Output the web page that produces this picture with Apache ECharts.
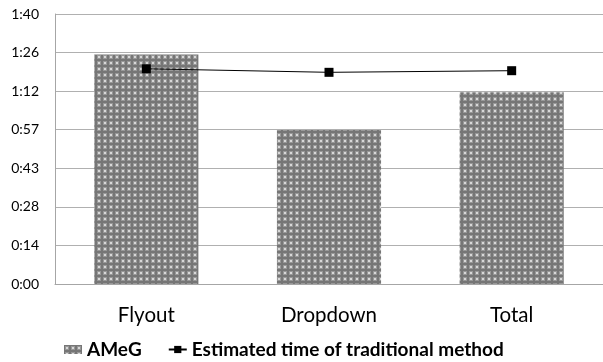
<!DOCTYPE html>
<html>
<head>
<meta charset="utf-8">
<script src="https://cdn.jsdelivr.net/npm/echarts@6/dist/echarts.min.js"></script>
<style>
  html, body { margin: 0; padding: 0; background: #fff; }
  #chart { width: 603px; height: 362px; }
</style>
</head>
<body>
<div id="chart"></div>
<script>
// Task categories
const categories = ['Flyout', 'Dropdown', 'Total'];
// Time with AMeG, in seconds
const amegSeconds = [85, 57, 71];
// Estimated time of the traditional method, in seconds
const traditionalSeconds = [79.7, 78.4, 79.0];
// Y axis: 0 to 1:40 split into seven steps
const yMax = 100;
const yStep = 100 / 7;
const yTickLabels = ['0:00', '0:14', '0:28', '0:43', '0:57', '1:12', '1:26', '1:40'];

// Grey fill with a regular grid of light dots
function makePattern() {
  const c = document.createElement('canvas');
  c.width = 6; c.height = 6;
  const g = c.getContext('2d');
  g.fillStyle = '#767676';
  g.fillRect(0, 0, 6, 6);
  g.fillStyle = '#989898';
  g.fillRect(1, 1, 4, 4);
  g.fillStyle = '#d8d8d8';
  g.fillRect(2, 2, 2, 2);
  return c;
}
const pattern = { image: makePattern(), repeat: 'repeat' };

const font = 'Lato, "Open Sans", sans-serif';
const chart = echarts.init(document.getElementById('chart'), null, { renderer: 'canvas' });
chart.setOption({
  animation: false,
  textStyle: { fontFamily: font },
  grid: { left: 55, right: -4, top: 14, bottom: 78, containLabel: false },
  xAxis: {
    type: 'category',
    data: categories,
    axisLine: { lineStyle: { color: '#a6a6a6', width: 1 } },
    axisTick: { show: false },
    axisLabel: { color: '#000', fontSize: 20.5, margin: 21, fontFamily: font }
  },
  yAxis: {
    type: 'value',
    min: 0,
    max: yMax,
    interval: yStep,
    axisLine: { show: true, lineStyle: { color: '#a6a6a6', width: 1 } },
    axisTick: { show: false },
    splitLine: { lineStyle: { color: '#b0b0b0', width: 1 } },
    axisLabel: {
      color: '#000', fontSize: 14, margin: 16, fontFamily: font,
      formatter: v => yTickLabels[Math.round(v / yStep)]
    }
  },
  legend: {
    top: 335,
    left: 59,
    itemGap: 26,
    itemWidth: 18,
    itemHeight: 9,
    textStyle: { color: '#000', fontSize: 19, fontWeight: 'bold', fontFamily: font },
    data: [
      { name: 'AMeG', icon: 'rect' },
      { name: 'Estimated time of traditional method' }
    ]
  },
  series: [
    {
      name: 'AMeG',
      type: 'bar',
      data: amegSeconds,
      barCategoryGap: '43%',
      itemStyle: { color: pattern }
    },
    {
      name: 'Estimated time of traditional method',
      type: 'line',
      data: traditionalSeconds,
      symbol: 'rect',
      symbolSize: 9,
      lineStyle: { color: '#000', width: 1 },
      itemStyle: { color: '#000' }
    }
  ]
});
</script>
</body>
</html>
